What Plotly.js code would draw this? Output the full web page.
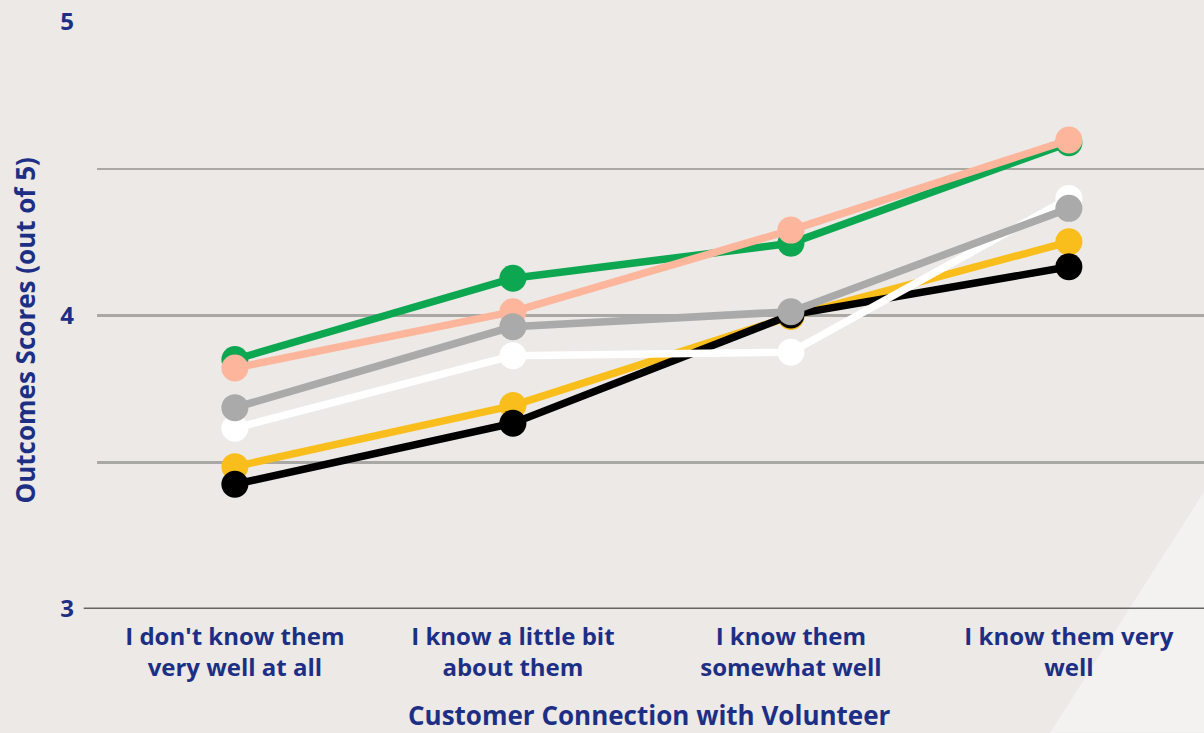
<!DOCTYPE html>
<html>
<head>
<meta charset="utf-8">
<script src="https://cdn.plot.ly/plotly-3.0.1.min.js"></script>
<style>
  html, body { margin: 0; padding: 0; background: #ece9e6; }
  #chart { width: 1204px; height: 733px; }
</style>
</head>
<body>
<div id="chart"></div>
<script>
const categories = [
  "I don't know them<br>very well at all",
  "I know a little bit<br>about them",
  "I know them<br>somewhat well",
  "I know them very<br>well"
];
const seriesNames = ["Green", "Peach", "Yellow", "Black", "White", "Gray"];
const greenValues  = [3.850, 4.127, 4.246, 4.589];
const peachValues  = [3.821, 4.013, 4.291, 4.598];
const yellowValues = [3.485, 3.693, 3.997, 4.251];
const blackValues  = [3.425, 3.633, 4.002, 4.166];
const whiteValues  = [3.616, 3.863, 3.875, 4.399];
const grayValues   = [3.686, 3.962, 4.013, 4.365];
const yTickValues = [3, 4, 5];
const yTickLabels = ["3", "4", "5"];
const xTitle = "Customer Connection with Volunteer";
const yTitle = "Outcomes Scores (out of 5)";

const colors = ["#0ca750", "#fdb59b", "#f9bd1c", "#000000", "#ffffff", "#aaaaaa"];
const allValues = [greenValues, peachValues, yellowValues, blackValues, whiteValues, grayValues];

const navy = "#1d2f85";
const fontFam = "'Open Sans', 'Noto Sans', sans-serif";

const traces = allValues.map((vals, i) => ({
  type: "scatter",
  mode: "lines+markers",
  name: seriesNames[i],
  x: categories,
  y: vals,
  line: { color: colors[i], width: 7.5 },
  marker: { color: colors[i], size: 27 },
  hoverinfo: "x+y+name"
}));

const layout = {
  width: 1204,
  height: 733,
  margin: { l: 97, r: 0, t: 22, b: 124 },
  paper_bgcolor: "#ece9e6",
  plot_bgcolor: "rgba(0,0,0,0)",
  showlegend: false,
  font: { family: fontFam, color: navy },
  xaxis: {
    type: "category",
    range: [-0.496, 3.486],
    showgrid: false,
    zeroline: false,
    showline: false,
    ticks: "",
    automargin: false,
    ticklabelstandoff: 11,
    tickfont: { family: fontFam, size: 24, color: navy, weight: "bold" }
  },
  yaxis: {
    range: [3, 5],
    tickvals: yTickValues,
    ticktext: yTickLabels,
    showgrid: true,
    gridcolor: "#aaa8a5",
    gridwidth: 2.5,
    zeroline: false,
    showline: false,
    ticks: "",
    automargin: false,
    ticklabelstandoff: 22,
    tickfont: { family: fontFam, size: 24, color: navy, weight: "bold" },
    minor: { dtick: 0.5, showgrid: true, gridcolor: "#aaa8a5", gridwidth: 2.5, ticks: "" }
  },
  annotations: [
    {
      text: "<b>" + yTitle + "</b>",
      xref: "paper", yref: "paper",
      x: 0, y: 0.5,
      xanchor: "center", yanchor: "middle",
      xshift: -73, yshift: -15,
      textangle: -90,
      showarrow: false,
      font: { family: fontFam, size: 26, color: navy }
    },
    {
      text: "<b>" + xTitle + "</b>",
      xref: "paper", yref: "paper",
      x: 0.5, y: 0,
      xanchor: "center", yanchor: "middle",
      xshift: -1, yshift: -106,
      showarrow: false,
      font: { family: fontFam, size: 26, color: navy }
    }
  ],
  shapes: [
    {
      type: "path",
      xref: "paper", yref: "paper",
      path: "M 1.0 0.2 L 1.0 -0.211 L 0.861 -0.211 Z",
      fillcolor: "#f3f2f0",
      line: { width: 0 },
      layer: "below"
    },
    {
      type: "line",
      xref: "paper", yref: "y",
      x0: -0.012, x1: 1, y0: 3, y1: 3,
      line: { color: "#666462", width: 3 },
      layer: "below"
    }
  ]
};

Plotly.newPlot("chart", traces, layout, { displayModeBar: false, staticPlot: true });
</script>
</body>
</html>
